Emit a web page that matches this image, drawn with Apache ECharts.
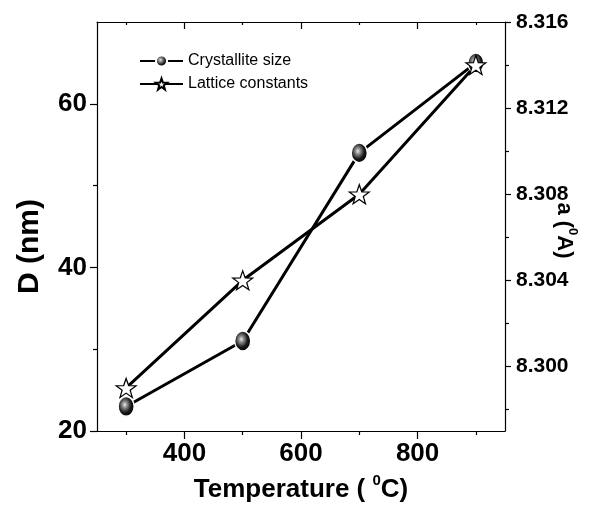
<!DOCTYPE html>
<html>
<head>
<meta charset="utf-8">
<script src="https://cdn.jsdelivr.net/npm/echarts@6/dist/echarts.min.js"></script>
<style>
html,body{margin:0;padding:0;background:#fff;}
#c{width:590px;height:512px;}
</style>
</head>
<body>
<div id="c"></div>
<script>
const temps = [300, 500, 700, 900];
const crystalliteSize = [23, 31, 54, 65];
const latticeConst = [8.299, 8.304, 8.308, 8.314];
const xTickLabels = [400, 600, 800];
const xMinorTicks = [300, 500, 700, 900];
const dTickLabels = [20, 40, 60];
const dMinorTicks = [30, 50];
const aTickLabels = [8.300, 8.304, 8.308, 8.312, 8.316];
const aMinorTicks = [8.298, 8.302, 8.306, 8.310, 8.314];

const FONT = "'Liberation Sans', Arial, sans-serif";
const starPath = 'path://M50 0 L61.76 33.82 L97.55 34.55 L69.02 56.18 L79.39 90.45 L50 70 L20.61 90.45 L30.98 56.18 L2.45 34.55 L38.24 33.82 Z';
const axisLine = {show: true, lineStyle: {color: '#000', width: 1.2}};
const noLine = {show: false};

function xAx(pos, ticks, len, inside, labels, line, extra) {
  return Object.assign({
    type: 'value', position: pos, min: 250, max: 950,
    axisLine: line ? axisLine : noLine,
    splitLine: {show: false},
    axisTick: {show: true, inside: inside, length: len, customValues: ticks, lineStyle: {color: '#000', width: 1.2}},
    axisLabel: labels ? {show: true, customValues: labels, fontFamily: FONT, fontSize: 26, fontWeight: 'bold', color: '#000', margin: 10} : {show: false}
  }, extra || {});
}

const chart = echarts.init(document.getElementById('c'), null, {renderer: 'canvas'});
chart.setOption({
  backgroundColor: '#fff',
  animation: false,
  grid: {left: 97, right: 85, top: 22, bottom: 81, containLabel: false, outerBoundsMode: 'none'},
  legend: {
    orient: 'vertical', left: 134, top: 48,
    itemWidth: 43, itemHeight: 14, itemGap: 7,
    textStyle: {fontFamily: FONT, fontSize: 16, color: '#000'},
    data: ['Crystallite size', 'Lattice constants']
  },
  xAxis: [
    xAx('bottom', xTickLabels, 8, false, xTickLabels, true, {
      name: '{t|Temperature ( }{s|0}{t|C)}',
      nameLocation: 'middle', nameGap: 42,
      nameTextStyle: {rich: {
        t: {fontFamily: FONT, fontSize: 26, fontWeight: 'bold', color: '#000', lineHeight: 30, verticalAlign: 'bottom'},
        s: {fontFamily: FONT, fontSize: 15, fontWeight: 'bold', color: '#000', lineHeight: 30, verticalAlign: 'top'}
      }}
    }),
    xAx('bottom', xMinorTicks, 4, false, null, false),
    xAx('top', xTickLabels, 7, true, null, true),
    xAx('top', xMinorTicks, 3, true, null, false)
  ],
  yAxis: [
    {
      type: 'value', position: 'left', min: 20, max: 70,
      axisLine: axisLine, splitLine: {show: false},
      axisTick: {show: true, length: 7, customValues: dTickLabels, lineStyle: {color: '#000', width: 1.2}},
      axisLabel: {customValues: dTickLabels, fontFamily: FONT, fontSize: 26, fontWeight: 'bold', color: '#000', margin: 10},
      name: 'D (nm)', nameLocation: 'middle', nameGap: 52, nameRotate: 90,
      nameTextStyle: {fontFamily: FONT, fontSize: 30, fontWeight: 'bold', color: '#000', padding: [0, 40, 0, 0]}
    },
    {
      type: 'value', position: 'left', min: 20, max: 70,
      axisLine: noLine, splitLine: {show: false},
      axisTick: {show: true, length: 4, customValues: dMinorTicks, lineStyle: {color: '#000', width: 1.2}},
      axisLabel: {show: false}
    },
    {
      type: 'value', position: 'right', min: 8.297, max: 8.316,
      axisLine: axisLine, splitLine: {show: false},
      axisTick: {show: true, length: 6, customValues: aTickLabels, lineStyle: {color: '#000', width: 1.2}},
      axisLabel: {customValues: aTickLabels, formatter: v => v.toFixed(3), fontFamily: FONT, fontSize: 21, fontWeight: 'bold', color: '#000', margin: 11},
      name: '{t|a (}{s|0}{t|A)}', nameLocation: 'middle', nameGap: 48, nameRotate: -90,
      nameMoveOverlap: false,
      nameTextStyle: {padding: [0, 0, 0, 8], rich: {
        t: {fontFamily: FONT, fontSize: 22, fontWeight: 'bold', color: '#000', lineHeight: 26, verticalAlign: 'bottom'},
        s: {fontFamily: FONT, fontSize: 13, fontWeight: 'bold', color: '#000', lineHeight: 26, verticalAlign: 'top'}
      }}
    },
    {
      type: 'value', position: 'right', min: 8.297, max: 8.316,
      axisLine: noLine, splitLine: {show: false},
      axisTick: {show: true, length: 4, customValues: aMinorTicks, lineStyle: {color: '#000', width: 1.2}},
      axisLabel: {show: false}
    }
  ],
  series: [
    {
      name: 'Crystallite size', type: 'line', xAxisIndex: 0, yAxisIndex: 0,
      data: temps.map((t, i) => [t, crystalliteSize[i]]),
      symbol: 'circle', symbolSize: [16, 20],
      lineStyle: {color: '#000', width: 3},
      itemStyle: {
        color: {type: 'radial', x: 0.42, y: 0.42, r: 0.6, colorStops: [
          {offset: 0, color: '#e8e8e8'}, {offset: 0.25, color: '#888'}, {offset: 0.6, color: '#1a1a1a'}, {offset: 1, color: '#000'}]},
        borderColor: '#fff', borderWidth: 1.5
      }
    },
    {
      name: 'Lattice constants', type: 'line', xAxisIndex: 0, yAxisIndex: 2,
      data: temps.map((t, i) => [t, latticeConst[i]]),
      symbol: starPath, symbolSize: [20, 19],
      lineStyle: {color: '#000', width: 3},
      itemStyle: {color: '#fff', borderColor: '#000', borderWidth: 1.2}
    }
  ]
});
</script>
</body>
</html>
